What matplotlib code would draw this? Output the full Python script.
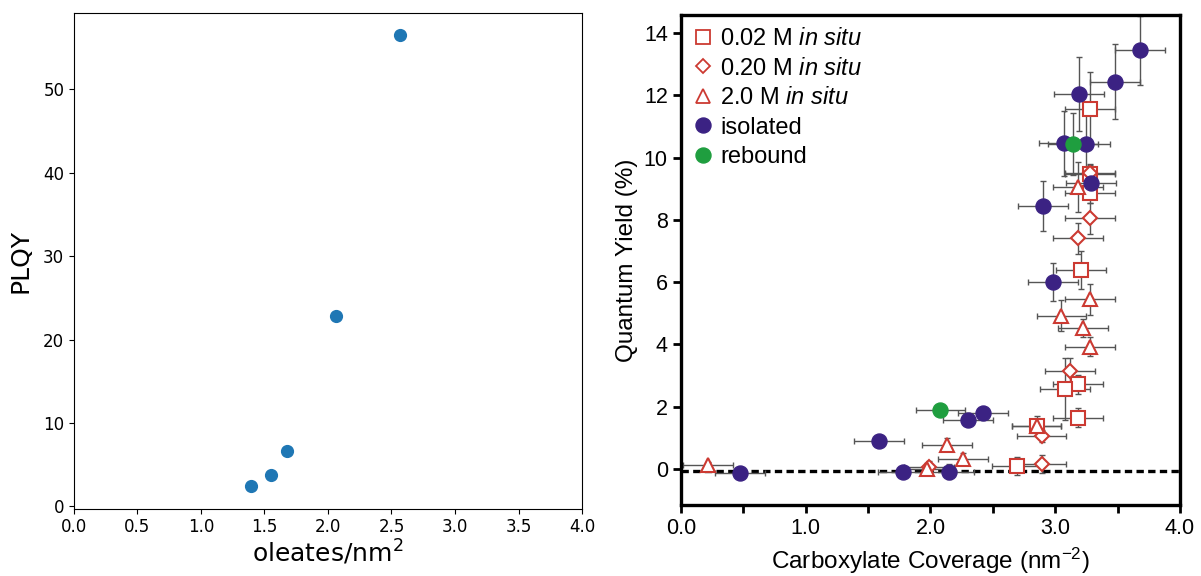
import matplotlib
matplotlib.use('Agg')
import matplotlib.pyplot as plt
from matplotlib.lines import Line2D
import numpy as np

plt.rcParams['mathtext.fontset'] = 'custom'
plt.rcParams['mathtext.rm'] = 'Liberation Sans'
plt.rcParams['mathtext.it'] = 'Liberation Sans:italic'

# left panel: PLQY vs oleate coverage
oleate = [1.39, 1.55, 1.68, 2.06, 2.57]
plqy = [2.4, 3.8, 6.6, 22.8, 56.5]

# right panel: quantum yield vs carboxylate coverage, one set per sample type
sq_x = [3.28, 3.28, 3.28, 3.21, 3.185, 3.08, 3.185, 2.85, 2.69]
sq_y = [11.56, 9.46, 8.85, 6.39, 2.72, 2.57, 1.65, 1.39, 0.09]
sq_xerr = [0.2, 0.2, 0.2, 0.2, 0.2, 0.2, 0.2, 0.2, 0.2]
sq_yerr = [1.2, 0.3, 0.3, 0.6, 0.3, 1.0, 0.3, 0.3, 0.3]

dia_x = [3.28, 3.28, 3.18, 3.12, 2.89, 2.89, 1.99]
dia_y = [9.5, 8.05, 7.40, 3.15, 1.05, 0.16, 0.05]
dia_xerr = [0.2, 0.2, 0.2, 0.2, 0.2, 0.2, 0.2]
dia_yerr = [0.3, 0.5, 0.5, 0.4, 0.2, 0.3, 0.2]

tri_x = [3.18, 3.28, 3.05, 3.22, 3.28, 2.85, 2.13, 2.26, 1.97, 0.22]
tri_y = [9.05, 5.45, 4.92, 4.52, 3.93, 1.39, 0.78, 0.32, 0.0, 0.13]
tri_xerr = [0.2, 0.2, 0.2, 0.2, 0.2, 0.2, 0.2, 0.2, 0.2, 0.2]
tri_yerr = [0.8, 0.5, 0.5, 0.3, 0.3, 0.2, 0.2, 0.2, 0.2, 0.1]

iso_x = [3.68, 3.48, 3.19, 3.07, 3.25, 3.29, 2.90, 2.98, 2.42, 2.30, 1.59, 2.15, 1.78, 0.47]
iso_y = [13.44, 12.44, 12.04, 10.46, 10.44, 9.18, 8.45, 6.0, 1.8, 1.58, 0.88, -0.09, -0.09, -0.13]
iso_xerr = [0.2, 0.2, 0.2, 0.2, 0.19, 0.2, 0.2, 0.2, 0.2, 0.2, 0.2, 0.2, 0.2, 0.2]
iso_yerr = [1.1, 1.2, 1.2, 1.05, 1.0, 0.3, 0.8, 0.62, 0.2, 0.2, 0.1, 0.25, 0.1, 0.2]

reb_x = [3.145, 2.08]
reb_y = [10.43, 1.89]
reb_xerr = [0.2, 0.2]
reb_yerr = [1.0, 0.1]

baseline = -0.08

red = '#cc3a32'
indigo = '#3b2283'
green = '#1f9e3f'
errc = '#555555'

fig = plt.figure(figsize=(12.01, 5.76), dpi=100)

# ---- left: plain scatter ----
ax1 = fig.add_axes([0.0616, 0.1168, 0.423, 0.861])
ax1.scatter(oleate, plqy, s=72, color='#1f77b4', zorder=3)
ax1.set_xlim(0, 4)
ax1.set_xticks(np.arange(0, 4.01, 0.5))
ax1.tick_params(labelsize=12)
ax1.set_xlabel('oleates/nm$^2$', fontsize=18, math_fontfamily='dejavusans', labelpad=1)
ax1.set_ylabel('PLQY', fontsize=18, labelpad=8)

# ---- right: quantum yield with error bars ----
ax2 = fig.add_axes([0.567, 0.1233, 0.4155, 0.8507])
fam = 'Liberation Sans'

eb = dict(fmt='none', ecolor=errc, elinewidth=1.0, capsize=2, capthick=1.0, zorder=2)
ax2.errorbar(sq_x, sq_y, xerr=sq_xerr, yerr=sq_yerr, **eb)
ax2.errorbar(dia_x, dia_y, xerr=dia_xerr, yerr=dia_yerr, **eb)
ax2.errorbar(tri_x, tri_y, xerr=tri_xerr, yerr=tri_yerr, **eb)
ax2.errorbar(iso_x, iso_y, xerr=iso_xerr, yerr=iso_yerr, **eb)
ax2.errorbar(reb_x, reb_y, xerr=reb_xerr, yerr=reb_yerr, **eb)

ax2.axhline(baseline, color='black', lw=2.4, ls=(0, (2.2, 1.3)), zorder=1)

ax2.plot(sq_x, sq_y, 's', ms=10, mfc='white', mec=red, mew=1.5, ls='none', zorder=4)
ax2.plot(dia_x, dia_y, 'D', ms=6.8, mfc='white', mec=red, mew=1.5, ls='none', zorder=4)
ax2.plot(tri_x, tri_y, '^', ms=10.5, mfc='white', mec=red, mew=1.5, ls='none', zorder=4)
ax2.plot(iso_x, iso_y, 'o', ms=10.8, mfc=indigo, mec=indigo, ls='none', zorder=5)
ax2.plot(reb_x, reb_y, 'o', ms=10.8, mfc=green, mec=green, ls='none', zorder=5)

ax2.set_xlim(0, 4)
ax2.set_ylim(-1.16, 14.58)
ax2.set_xticks([0, 1, 2, 3, 4])
ax2.set_xticklabels(['0.0', '1.0', '2.0', '3.0', '4.0'])
ax2.set_xticks([0.5, 1.5, 2.5, 3.5], minor=True)
ax2.set_yticks(np.arange(0, 15, 2))
ax2.tick_params(which='both', direction='out', length=6, width=2, labelsize=15.5)
for lbl in ax2.get_xticklabels() + ax2.get_yticklabels():
    lbl.set_fontfamily(fam)
for sp in ax2.spines.values():
    sp.set_linewidth(2.4)

ax2.set_xlabel('Carboxylate Coverage (nm$^{-2}$)', fontsize=17.5, fontfamily=fam, labelpad=5)
ax2.set_ylabel('Quantum Yield (%)', fontsize=17.5, fontfamily=fam, labelpad=4)

handles = [
    Line2D([], [], marker='s', ms=10, mfc='white', mec=red, mew=1.3, ls='none'),
    Line2D([], [], marker='D', ms=6.8, mfc='white', mec=red, mew=1.3, ls='none'),
    Line2D([], [], marker='^', ms=10.5, mfc='white', mec=red, mew=1.3, ls='none'),
    Line2D([], [], marker='o', ms=10.8, mfc=indigo, mec=indigo, ls='none'),
    Line2D([], [], marker='o', ms=10.8, mfc=green, mec=green, ls='none'),
]
labels = ['0.02 M $\\it{in\\ situ}$', '0.20 M $\\it{in\\ situ}$', '2.0 M $\\it{in\\ situ}$',
          'isolated', 'rebound']
ax2.legend(handles, labels, loc='upper left', frameon=False, prop={'family': fam, 'size': 17},
           handlelength=0.8, handletextpad=0.3, labelspacing=0.32,
           borderaxespad=0.3, borderpad=0.25)

fig.savefig('out.png', dpi=100)
